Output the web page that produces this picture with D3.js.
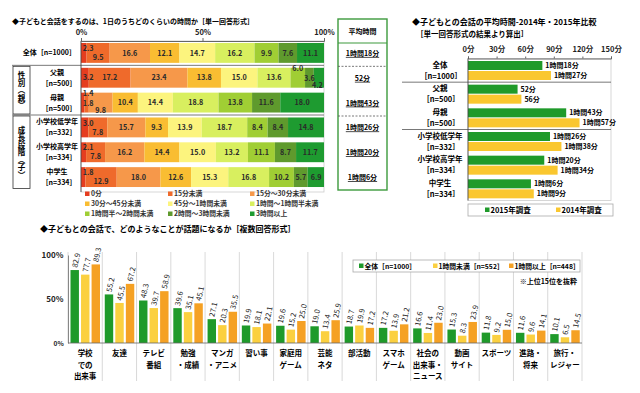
<!DOCTYPE html>
<html>
<head>
<meta charset="utf-8">
<script src="https://cdn.jsdelivr.net/npm/d3@7"></script>
<style>
body { margin: 0; background: #fff; }
svg { font-family: "Noto Sans CJK JP", "Noto Sans", sans-serif; font-weight: bold; }
</style>
</head>
<body>
<div id="graph"></div>
<script>
// --- data ---
var rowNames = ["全体", "父親", "母親", "小学校低学年", "小学校高学年", "中学生"];
var rowN = ["1000", "500", "500", "332", "334", "334"];
var timeCats = ["0分", "15分未満", "15分～30分未満", "30分～45分未満", "45分～1時間未満",
	"1時間～1時間半未満", "1時間半～2時間未満", "2時間～3時間未満", "3時間以上"];
var shareAll = [2.3, 9.5, 16.6, 12.1, 14.7, 16.2, 9.9, 7.6, 11.1];
var shareFather = [3.2, 17.2, 23.4, 13.8, 15.0, 13.6, 6.0, 3.6, 4.2];
var shareMother = [1.4, 1.8, 9.8, 10.4, 14.4, 18.8, 13.8, 11.6, 18.0];
var shareLow = [3.0, 7.8, 15.7, 9.3, 13.9, 18.7, 8.4, 8.4, 14.8];
var shareHigh = [2.1, 7.8, 16.2, 14.4, 15.0, 13.2, 11.1, 8.7, 11.7];
var shareJunior = [1.8, 12.9, 18.0, 12.6, 15.3, 16.8, 10.2, 5.7, 6.9];

var avg2015 = [78, 52, 103, 86, 80, 66];   // minutes
var avg2014 = [87, 56, 117, 98, 94, 69];
var avgTicks = [0, 30, 60, 90, 120, 150];

var topics = ["学校\nでの\n出来事", "友達", "テレビ\n番組", "勉強\n・成績", "マンガ\n・アニメ", "習い事",
	"家庭用\nゲーム", "芸能\nネタ", "部活動", "スマホ\nゲーム", "社会の\n出来事・\nニュース", "動画\nサイト",
	"スポーツ", "進路・\n将来", "旅行・\nレジャー"];
var topicAll = [82.9, 55.2, 48.3, 39.6, 27.1, 19.9, 19.6, 19.0, 18.7, 17.2, 16.6, 15.3, 11.8, 11.6, 10.1];
var topicUnder = [77.7, 45.5, 39.7, 35.1, 20.3, 18.1, 15.2, 13.4, 19.9, 13.9, 11.4, 8.3, 9.2, 9.6, 6.5];
var topicOver = [89.3, 67.2, 58.9, 45.1, 35.5, 22.1, 25.0, 25.9, 17.2, 21.2, 23.0, 23.9, 15.0, 14.1, 14.5];
var topicSeries = ["全体［n=1000］", "1時間未満［n=552］", "1時間以上［n=448］"];

var shares = [shareAll, shareFather, shareMother, shareLow, shareHigh, shareJunior];

var timeColors = ["#e53d1f", "#ef6a2b", "#f6984a", "#f9bd32", "#fcf47e", "#d8ef5f", "#a0ce34", "#5f9a2d", "#1e9b30"];

function fmtMin(m) {
	var h = Math.floor(m / 60), r = m % 60;
	return (h > 0 ? h + "時間" : "") + r + "分";
}

var svg = d3.select("#graph").append("svg")
	.attr("width", 640).attr("height", 393);

// ================= chart 1 : stacked time share =================
var x1 = d3.scaleLinear().domain([0, 100]).range([81, 324]);
var y1 = d3.scaleBand().domain(rowNames).range([40.5, 189.5]).paddingInner(0.2).paddingOuter(0.1);

svg.append("text").attr("x", 12).attr("y", 24).attr("font-size", 7)
	.text("◆子どもと会話をするのは、1日のうちどのくらいの時間か［単一回答形式］");

svg.append("rect").attr("x", x1(0)).attr("y", 41).attr("width", x1(100) - x1(0)).attr("height", 151)
	.attr("fill", "none").attr("stroke", "#ccc").attr("stroke-width", 0.8);

svg.append("g").attr("transform", "translate(0,41)")
	.call(d3.axisTop(x1).tickValues([0, 50, 100]).tickFormat(function (d) { return d + "%"; }).tickSize(3))
	.call(function (g) {
		g.select(".domain").attr("stroke", "#666");
		g.selectAll("line").attr("stroke", "#666");
		g.selectAll("text").attr("font-size", 7.5).attr("font-family", "Noto Sans CJK JP").attr("font-weight", "bold").attr("fill", "#222");
	});

// group separators
[1, 3].forEach(function (i) {
	var yy = y1(rowNames[i]) - y1.step() * y1.paddingInner() / 2;
	svg.append("line").attr("x1", 12).attr("x2", x1(100)).attr("y1", yy).attr("y2", yy)
		.attr("stroke", "#555").attr("stroke-width", 0.8);
});

shares.forEach(function (vals, r) {
	var y0 = y1(rowNames[r]), bh = y1.bandwidth(), cy = y0 + bh / 2;
	var cum = 0;
	var segs = vals.map(function (v, i) { var s = { v: v, i: i, a: cum, b: cum + v }; cum += v; return s; });
	var g = svg.append("g");
	g.selectAll("rect").data(segs).enter().append("rect")
		.attr("x", function (d) { return x1(d.a); })
		.attr("width", function (d) { return Math.max(0, x1(Math.min(d.b, 100)) - x1(d.a)); })
		.attr("y", y0).attr("height", bh)
		.attr("fill", function (d) { return timeColors[d.i]; });

	// label placement with simple staggering
	segs.forEach(function (d) {
		var s = d.v.toFixed(1);
		d.w = s.length * 4.4;
		d.cx = Math.max((x1(d.a) + x1(d.b)) / 2, x1(0) + d.w / 2 + 0.5);
		d.cx = Math.min(d.cx, x1(100) - d.w / 2);
		d.dy = 0;
		d.s = s;
	});
	var clusters = [], cur = [segs[0]];
	for (var i = 1; i < segs.length; i++) {
		var p = segs[i - 1], c = segs[i];
		if (c.cx - c.w / 2 < p.cx + p.w / 2) cur.push(c); else { clusters.push(cur); cur = [c]; }
	}
	clusters.push(cur);
	var stag3 = [-9.5, 0.8, 7.5];
	clusters.forEach(function (cl) {
		if (cl.length == 2) { cl[0].dy = -4.5; cl[1].dy = 4.5; }
		if (cl.length >= 3) { cl.forEach(function (d, k) { d.dy = stag3[Math.min(k, 2)]; }); }
	});
	g.selectAll("text").data(segs).enter().append("text")
		.attr("x", function (d) { return d.cx; })
		.attr("y", function (d) { return cy + d.dy + 2.6; })
		.attr("text-anchor", "middle").attr("font-size", 7.2).attr("fill", "#2a2a2a")
		.text(function (d) { return d.s; });

	// row label
	if (r == 0) {
		svg.append("text").attr("x", 76).attr("y", cy + 2.5).attr("text-anchor", "end").attr("font-size", 7)
			.text(rowNames[r] + "［n=" + rowN[r] + "］");
	} else {
		svg.append("text").attr("x", 57).attr("y", cy - 3).attr("text-anchor", "middle").attr("font-size", 7)
			.text(rowNames[r]);
		svg.append("text").attr("x", 59).attr("y", cy + 8).attr("text-anchor", "middle").attr("font-size", 7)
			.text("［n=" + rowN[r] + "］");
	}
});

svg.append("line").attr("x1", x1(0)).attr("x2", x1(0)).attr("y1", 41).attr("y2", 192)
	.attr("stroke", "#444").attr("stroke-width", 0.8);

// group boxes
var groups = [{ t: "性別（親）", a: 1, b: 2 }, { t: "成長段階（子）", a: 3, b: 5 }];
groups.forEach(function (gp) {
	var top = y1(rowNames[gp.a]) - 1.5, bot = y1(rowNames[gp.b]) + y1.bandwidth() + 1.5;
	svg.append("rect").attr("x", 13).attr("y", top).attr("width", 17).attr("height", bot - top)
		.attr("fill", "none").attr("stroke", "#333").attr("stroke-width", 0.8);
	svg.append("text").attr("x", 21.5).attr("y", (top + bot) / 2).attr("font-size", 7.5)
		.attr("text-anchor", "middle").style("writing-mode", "vertical-rl")
		.text(gp.t);
});

// legend chart 1
var legX = [85, 168, 250];
timeCats.forEach(function (t, i) {
	var lx = legX[i % 3], ly = 196 + Math.floor(i / 3) * 10;
	svg.append("rect").attr("x", lx).attr("y", ly - 4.5).attr("width", 4.5).attr("height", 4.5).attr("fill", timeColors[i]);
	svg.append("text").attr("x", lx + 6).attr("y", ly).attr("font-size", 6.8).attr("fill", "#333").text(t);
});

// average box
var boxX = 338, boxW = 49;
svg.append("rect").attr("x", boxX).attr("y", 19).attr("width", boxW).attr("height", 171)
	.attr("fill", "none").attr("stroke", "#3d9a3d").attr("stroke-width", 1.4);
svg.append("line").attr("x1", boxX).attr("x2", boxX + boxW).attr("y1", 43).attr("y2", 43)
	.attr("stroke", "#3d9a3d").attr("stroke-width", 1.2);
svg.append("text").attr("x", boxX + boxW / 2).attr("y", 34).attr("text-anchor", "middle").attr("font-size", 7).text("平均時間");
[1, 3].forEach(function (i) {
	var yy = y1(rowNames[i]) - y1.step() * y1.paddingInner() / 2 + 1;
	svg.append("line").attr("x1", boxX).attr("x2", boxX + boxW).attr("y1", yy).attr("y2", yy)
		.attr("stroke", "#555").attr("stroke-width", 0.8).attr("stroke-dasharray", "2,1.5");
});
avg2015.forEach(function (m, r) {
	svg.append("text").attr("x", boxX + boxW / 2).attr("y", y1(rowNames[r]) + y1.bandwidth() / 2 + 3)
		.attr("text-anchor", "middle").attr("font-size", 7).attr("text-decoration", "underline")
		.text(fmtMin(m));
});

// ================= chart 2 : average minutes 2014 vs 2015 =================
var x2 = d3.scaleLinear().domain([0, 150]).range([468, 611]);
var y2 = d3.scaleBand().domain(rowNames).range([58.5, 200.5]);
var yr = d3.scaleBand().domain(["2015", "2014"]).range([2.5, 21.5]).paddingInner(0.1);
var yrColors = { "2015": "#1f9a2a", "2014": "#fac72f" };

svg.append("text").attr("x", 412).attr("y", 25).attr("font-size", 8).text("◆子どもとの会話の平均時間-2014年・2015年比較");
svg.append("text").attr("x", 416).attr("y", 37).attr("font-size", 7.5).text("［単一回答形式の結果より算出］");

svg.append("rect").attr("x", x2(0)).attr("y", 58.5).attr("width", x2(150) - x2(0)).attr("height", 142)
	.attr("fill", "none").attr("stroke", "#ccc").attr("stroke-width", 0.8);
svg.append("g").attr("transform", "translate(0,58.5)")
	.call(d3.axisTop(x2).tickValues(avgTicks).tickFormat(function (d) { return d + "分"; }).tickSize(2))
	.call(function (g) {
		g.select(".domain").attr("stroke", "#666");
		g.selectAll("line").attr("stroke", "#666");
		g.selectAll("text").attr("font-size", 7.5).attr("font-family", "Noto Sans CJK JP").attr("font-weight", "bold").attr("fill", "#222").attr("dy", "-0.2em");
	});
[1, 3].forEach(function (i) {
	var yy = y2(rowNames[i]);
	svg.append("line").attr("x1", 402).attr("x2", x2(150)).attr("y1", yy).attr("y2", yy)
		.attr("stroke", "#555").attr("stroke-width", 0.8);
});
rowNames.forEach(function (name, r) {
	var gy = y2(name);
	var items = [{ k: "2015", v: avg2015[r] }, { k: "2014", v: avg2014[r] }];
	var g = svg.append("g");
	g.selectAll("rect").data(items).enter().append("rect")
		.attr("x", x2(0)).attr("y", function (d) { return gy + yr(d.k); })
		.attr("width", function (d) { return x2(d.v) - x2(0); }).attr("height", yr.bandwidth())
		.attr("fill", function (d) { return yrColors[d.k]; });
	g.selectAll("text").data(items).enter().append("text")
		.attr("x", function (d) { return x2(d.v) + 3; })
		.attr("y", function (d) { return gy + yr(d.k) + yr.bandwidth() / 2 + 2.5; })
		.attr("font-size", 7).text(function (d) { return fmtMin(d.v); });
	svg.append("text").attr("x", 440).attr("y", gy + 9).attr("text-anchor", "middle").attr("font-size", 7.5).text(name);
	svg.append("text").attr("x", 441).attr("y", gy + 20).attr("text-anchor", "middle").attr("font-size", 7.5).text("［n=" + rowN[r] + "］");
});
svg.append("line").attr("x1", x2(0)).attr("x2", x2(0)).attr("y1", 58.5).attr("y2", 200.5)
	.attr("stroke", "#444").attr("stroke-width", 0.8);
svg.append("rect").attr("x", 468).attr("y", 204).attr("width", 145).attr("height", 12)
	.attr("fill", "#fff").attr("stroke", "#aaa").attr("stroke-width", 0.8);
[["2015", 485], ["2014", 556]].forEach(function (p) {
	svg.append("rect").attr("x", p[1]).attr("y", 207.5).attr("width", 4.5).attr("height", 4.5).attr("fill", yrColors[p[0]]);
	svg.append("text").attr("x", p[1] + 5.5).attr("y", 213).attr("font-size", 7.5).text(p[0] + "年調査");
});

// ================= chart 3 : conversation topics =================
var x3 = d3.scaleBand().domain(topics).range([68, 582]);
var xs = d3.scaleBand().domain([0, 1, 2]).range([2.5, 32]).paddingInner(0.2);
var y3 = d3.scaleLinear().domain([0, 100]).range([343, 255]);
var topicColors = ["#1f9a2a", "#fbd040", "#f5a124"];
var topicVals = [topicAll, topicUnder, topicOver];

svg.append("text").attr("x", 40).attr("y", 232).attr("font-size", 8)
	.text("◆子どもとの会話で、どのようなことが話題になるか［複数回答形式］");

topics.concat([null]).forEach(function (t, i) {
	var xx = t ? x3(t) : x3.range()[1];
	svg.append("line").attr("x1", xx).attr("x2", xx).attr("y1", 252).attr("y2", i == 0 ? 343 : 381)
		.attr("stroke", "#cfcfcf").attr("stroke-width", 0.8);
});
svg.append("g").attr("transform", "translate(68,0)")
	.call(d3.axisLeft(y3).tickValues([0, 50, 100]).tickFormat(function (d) { return d + "%"; }).tickSize(0))
	.call(function (g) {
		g.select(".domain").attr("stroke", "#888");
		g.selectAll("text").attr("font-size", function (d) { return d == 0 ? 6.5 : 8; })
			.attr("font-family", "Noto Sans CJK JP").attr("font-weight", "bold").attr("fill", "#222").attr("dx", "-0.2em");
	});

topics.forEach(function (t, c) {
	var items = topicVals.map(function (arr, s) { return { s: s, v: arr[c] }; });
	var g = svg.append("g").attr("transform", "translate(" + x3(t) + ",0)");
	g.selectAll("rect").data(items).enter().append("rect")
		.attr("x", function (d) { return xs(d.s); }).attr("width", xs.bandwidth())
		.attr("y", function (d) { return y3(d.v); }).attr("height", function (d) { return y3(0) - y3(d.v); })
		.attr("fill", function (d) { return topicColors[d.s]; });
	g.selectAll("text.v").data(items).enter().append("text").attr("class", "v")
		.attr("transform", function (d) { return "translate(" + (xs(d.s) + xs.bandwidth() / 2 + 2.5) + "," + (y3(d.v) - 2) + ") rotate(-78)"; })
		.attr("font-size", 7.5).attr("font-weight", "normal").attr("fill", "#222")
		.text(function (d) { return d.v.toFixed(1); });
	var lines = t.split("\n");
	lines.forEach(function (ln, k) {
		svg.append("text").attr("x", x3(t) + x3.bandwidth() / 2).attr("y", 356 + k * 11.5)
			.attr("text-anchor", "middle").attr("font-size", 7.5).text(ln);
	});
});
svg.append("line").attr("x1", 68).attr("x2", 582).attr("y1", y3(0)).attr("y2", y3(0))
	.attr("stroke", "#666").attr("stroke-width", 0.8);

svg.append("rect").attr("x", 353).attr("y", 260).attr("width", 227).attr("height", 12)
	.attr("fill", "#fff").attr("stroke", "#aaa").attr("stroke-width", 0.8);
[359, 433, 509].forEach(function (lx, i) {
	svg.append("rect").attr("x", lx).attr("y", 263.5).attr("width", 4.5).attr("height", 4.5).attr("fill", topicColors[i]);
	svg.append("text").attr("x", lx + 5.5).attr("y", 269).attr("font-size", 6.8).text(topicSeries[i]);
});
svg.append("text").attr("x", 577).attr("y", 284).attr("text-anchor", "end").attr("font-size", 7).text("※上位15位を抜粋");
</script>
</body>
</html>
